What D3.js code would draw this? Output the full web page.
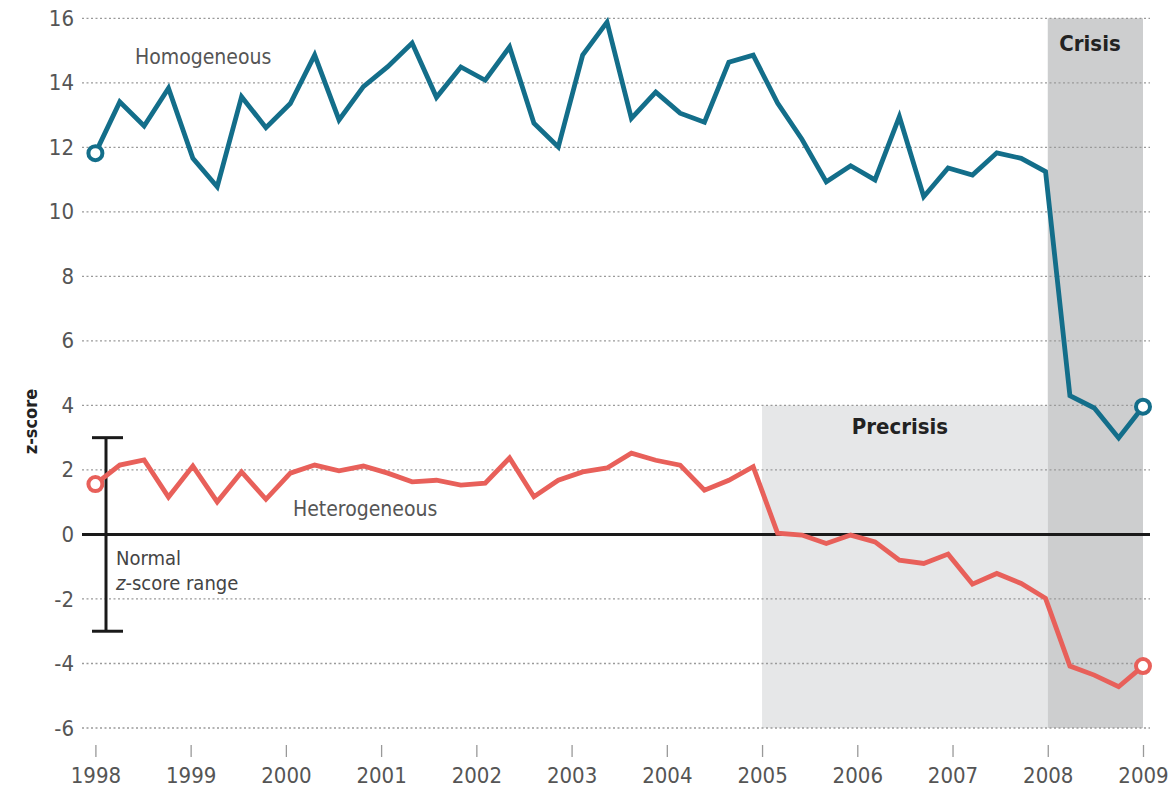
<!DOCTYPE html>
<html>
<head>
<meta charset="utf-8">
<script src="https://cdn.jsdelivr.net/npm/d3@7"></script>
<style>
  html, body { margin: 0; padding: 0; background: #fff; }
  svg { display: block; }
  text { font-family: "Liberation Sans Narrow", "DejaVu Sans Condensed", "Roboto", sans-serif; }
</style>
</head>
<body>
<svg id="chart" width="1168" height="790"></svg>
<script>
// ---- data ----
const years = [1998, 1999, 2000, 2001, 2002, 2003, 2004, 2005, 2006, 2007, 2008, 2009];
const yTicks = [-6, -4, -2, 0, 2, 4, 6, 8, 10, 12, 14, 16];
const homogeneous = [11.82, 13.41, 12.66, 13.83, 11.66, 10.78, 13.57, 12.61, 13.36, 14.86, 12.85, 13.88,
  14.5, 15.23, 13.55, 14.49, 14.08, 15.11, 12.75, 12.01, 14.86, 15.88, 12.9, 13.71,
  13.06, 12.78, 14.64, 14.86, 13.37, 12.25, 10.93, 11.43, 10.99, 12.95, 10.47, 11.36,
  11.14, 11.83, 11.66, 11.25, 4.3, 3.92, 2.99, 3.96];
const heterogeneous = [1.56, 2.15, 2.31, 1.16, 2.12, 1.01, 1.94, 1.09, 1.9, 2.15, 1.97, 2.12,
  1.9, 1.63, 1.68, 1.53, 1.59, 2.37, 1.17, 1.68, 1.94, 2.06, 2.52, 2.3,
  2.15, 1.37, 1.68, 2.1, 0.04, -0.02, -0.28, -0.02, -0.23, -0.8, -0.9, -0.61,
  -1.54, -1.21, -1.52, -1.98, -4.08, -4.36, -4.72, -4.08];
const periodNames = ["Precrisis", "Crisis"];
const periodStart = [2005, 2008];
const periodEnd = [2008, 2009];
const periodTop = [4, 16];
const normalRange = [-3, 3];

// ---- scales ----
const svg = d3.select("#chart");
const x = d3.scaleLinear().domain([1998, 2009]).range([95.4, 1143]);
const y = d3.scaleLinear().domain([-6, 16]).range([728, 18.3]);
const xi = d3.scalePoint().domain(d3.range(homogeneous.length)).range([x(1998), x(2009)]);

const teal = "#136e8a";
const red = "#e8605a";

// ---- shading ----
const shadeFill = ["#e6e7e8", "#cdcecf"];
periodNames.forEach((n, i) => {
  svg.append("rect")
    .attr("x", x(periodStart[i]))
    .attr("width", x(periodEnd[i]) - x(periodStart[i]))
    .attr("y", y(periodTop[i]))
    .attr("height", y(-6) - y(periodTop[i]))
    .attr("fill", shadeFill[i]);
});

// ---- gridlines & y axis ----
const yAxis = d3.axisLeft(y).tickValues(yTicks).tickSize(0).tickPadding(10).tickFormat(d => String(d));
const gy = svg.append("g").attr("transform", "translate(82,0)").call(yAxis);
gy.select(".domain").remove();
gy.selectAll("text").attr("font-size", 22).attr("fill", "#555").attr("x", -8);

svg.append("g").selectAll("line").data(yTicks.filter(d => d !== 0)).join("line")
  .attr("x1", 82).attr("x2", 1150)
  .attr("y1", d => y(d)).attr("y2", d => y(d))
  .attr("stroke", "#9a9a9a").attr("stroke-width", 1.3)
  .attr("stroke-dasharray", "2,2.5");

// zero line
svg.append("line").attr("x1", 82).attr("x2", 1150)
  .attr("y1", y(0)).attr("y2", y(0))
  .attr("stroke", "#1a1a1a").attr("stroke-width", 3);

// ---- x axis ----
const xAxis = d3.axisBottom(x).tickValues(years).tickFormat(d => String(d)).tickSize(12).tickPadding(10);
const gx = svg.append("g").attr("transform", "translate(0,745)").call(xAxis);
gx.select(".domain").remove();
gx.selectAll(".tick line").attr("stroke", "#999").attr("stroke-width", 1.3);
gx.selectAll("text").attr("font-size", 22).attr("fill", "#555");

// axis title
svg.append("text")
  .attr("transform", `translate(37,${y(3.5)}) rotate(-90)`)
  .attr("text-anchor", "middle")
  .attr("font-size", 18).attr("font-weight", "bold").attr("fill", "#222")
  .text("z-score");

// ---- normal range bar ----
const nx = 106;
svg.append("line").attr("x1", nx).attr("x2", nx)
  .attr("y1", y(normalRange[1])).attr("y2", y(normalRange[0]))
  .attr("stroke", "#1a1a1a").attr("stroke-width", 3);
normalRange.forEach(v => {
  svg.append("line").attr("x1", nx - 14).attr("x2", nx + 17)
    .attr("y1", y(v)).attr("y2", y(v))
    .attr("stroke", "#1a1a1a").attr("stroke-width", 3);
});
svg.append("text").attr("x", 116).attr("y", 565)
  .attr("font-size", 20).attr("fill", "#444").text("Normal");
const t2 = svg.append("text").attr("x", 116).attr("y", 590)
  .attr("font-size", 20).attr("fill", "#444");
t2.append("tspan").attr("font-style", "italic").text("z");
t2.append("tspan").text("-score range");

// ---- lines ----
const line = d3.line().x((d, i) => xi(i)).y(d => y(d)).curve(d3.curveLinear);
svg.append("path").datum(heterogeneous).attr("d", line)
  .attr("fill", "none").attr("stroke", red).attr("stroke-width", 4.8).attr("stroke-linejoin", "miter");
svg.append("path").datum(homogeneous).attr("d", line)
  .attr("fill", "none").attr("stroke", teal).attr("stroke-width", 4.8).attr("stroke-linejoin", "miter");

// end markers
[[homogeneous, teal], [heterogeneous, red]].forEach(([s, c]) => {
  [0, s.length - 1].forEach(i => {
    svg.append("circle").attr("cx", xi(i)).attr("cy", y(s[i])).attr("r", 7)
      .attr("fill", "#fff").attr("stroke", c).attr("stroke-width", 4);
  });
});

// ---- labels ----
svg.append("text").attr("x", 135).attr("y", 64)
  .attr("font-size", 21).attr("fill", "#555").text("Homogeneous");
svg.append("text").attr("x", 293).attr("y", 516)
  .attr("font-size", 21).attr("fill", "#555").text("Heterogeneous");
svg.append("text").attr("x", 900).attr("y", 434).attr("text-anchor", "middle")
  .attr("font-size", 22).attr("font-weight", "bold").attr("fill", "#222").text(periodNames[0]);
svg.append("text").attr("x", 1090).attr("y", 51).attr("text-anchor", "middle")
  .attr("font-size", 22).attr("font-weight", "bold").attr("fill", "#222").text(periodNames[1]);
</script>
</body>
</html>
